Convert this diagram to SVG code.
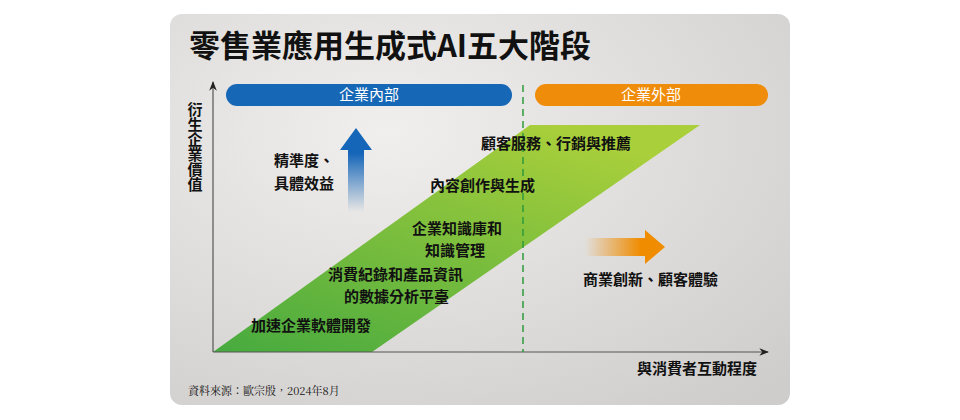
<svg xmlns="http://www.w3.org/2000/svg" width="960" height="420" viewBox="0 0 960 420">
<style>
text{font-family:"Noto Sans CJK TC","Noto Sans CJK SC",sans-serif;fill:#111;font-weight:bold}
.lbl{font-size:15px}
.pill{font-size:15px;fill:#fff;font-weight:normal}
</style>
<defs>
<radialGradient id="bg" cx="0.35" cy="0.3" r="0.9">
<stop offset="0" stop-color="#f1efed"/><stop offset="1" stop-color="#cfcdcb"/></radialGradient>
<linearGradient id="gr" x1="0" y1="1" x2="0.7" y2="0">
<stop offset="0" stop-color="#47aa3f"/><stop offset="1" stop-color="#a9cf3b"/></linearGradient>
<linearGradient id="bl" x1="0" y1="0" x2="0" y2="1">
<stop offset="0.3" stop-color="#1565b8"/><stop offset="1" stop-color="#1565b8" stop-opacity="0"/></linearGradient>
<linearGradient id="or" x1="0" y1="0" x2="1" y2="0">
<stop offset="0" stop-color="#f08c00" stop-opacity="0"/><stop offset="0.7" stop-color="#f08c00"/></linearGradient>
<marker id="ah" viewBox="0 0 10 10" refX="9" refY="5" markerWidth="8" markerHeight="8" orient="auto"><path d="M0,1 L10,5 L0,9 L3,5Z" fill="#222"/></marker>
</defs>
<rect width="960" height="420" fill="#fff"/>
<rect x="170" y="14" width="620" height="391" rx="12" fill="url(#bg)"/>
<text x="189" y="57" style="font-size:31px">零售業應用生成式AI五大階段</text>
<g id="stages"><path d="M213,352 L372,352 L700,125 L530,125Z" fill="url(#gr)"/></g>
<g id="connectors">
<line x1="213" y1="352" x2="213" y2="82" stroke="#555" stroke-width="1.2" marker-end="url(#ah)"/>
<line x1="213" y1="352" x2="768" y2="352" stroke="#555" stroke-width="1.2" marker-end="url(#ah)"/>
<line x1="523" y1="85" x2="523" y2="352" stroke="#2f9a3a" stroke-width="1.5" stroke-dasharray="7,5"/>
</g>
<g id="internal"><rect x="226" y="84" width="286" height="22" rx="11" fill="#1767b7"/><text class="pill" x="369" y="100" text-anchor="middle">企業內部</text></g>
<g id="external"><rect x="535" y="84" width="233" height="22" rx="11" fill="#ef8c0a"/><text class="pill" x="651" y="100" text-anchor="middle">企業外部</text></g>
<g id="yaxis"><text class="lbl" x="195" y="102" style="writing-mode:tb">衍生企業價值</text></g>
<text class="lbl" x="757" y="374" text-anchor="end">與消費者互動程度</text>
<g id="blue-arrow"><path d="M348,212 L348,150 L340,150 L356,128 L372,150 L364,150 L364,212Z" fill="url(#bl)"/></g>
<g id="orange-arrow"><path d="M585,238 L645,238 L645,230 L665,247 L645,264 L645,256 L585,256Z" fill="url(#or)"/></g>
<text class="lbl" x="274" y="166">精準度、</text>
<text class="lbl" x="274" y="189">具體效益</text>
<text class="lbl" x="481" y="149">顧客服務、行銷與推薦</text>
<text class="lbl" x="430" y="191">內容創作與生成</text>
<text class="lbl" x="412" y="234">企業知識庫和</text>
<text class="lbl" x="425" y="256">知識管理</text>
<text class="lbl" x="328" y="280">消費紀錄和產品資訊</text>
<text class="lbl" x="344" y="302">的數據分析平臺</text>
<text class="lbl" x="251" y="331">加速企業軟體開發</text>
<text class="lbl" x="583" y="285">商業創新、顧客體驗</text>
<text x="188" y="395" style="font-size:11px;font-weight:normal;font-family:'Noto Serif CJK TC','Liberation Serif','Noto Sans CJK TC',serif">資料來源：歐宗殷，2024年8月</text>
</svg>
